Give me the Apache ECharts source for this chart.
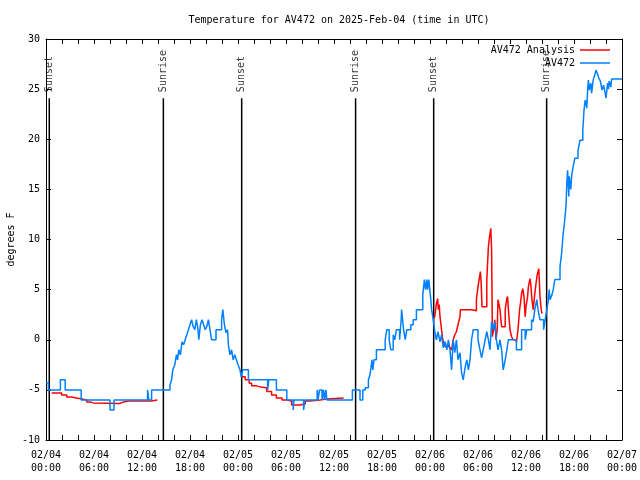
<!DOCTYPE html>
<html>
<head>
<meta charset="utf-8">
<script src="https://cdn.jsdelivr.net/npm/echarts@6/dist/echarts.min.js"></script>
<style>html,body{margin:0;padding:0;background:#fff}#c{width:640px;height:480px}</style>
</head>
<body>
<div id="c"></div>
<script>
// hours since 2025-02-04 00:00 UTC
const blueTime = [0,0.3,1.8,2.4,4.4,8.0,8.5,12.7,12.85,13.2,15.5,15.7,15.85,16.1,16.3,16.45,16.6,16.8,17.0,17.2,17.4,17.6,17.8,18.0,18.2,18.4,18.6,18.8,19.0,19.1,19.3,19.5,19.7,19.9,20.1,20.3,20.5,20.7,21.25,21.95,22.1,22.3,22.5,22.7,22.8,23.0,23.2,23.4,23.6,23.8,24.0,24.25,24.4,24.6,25.3,27.7,27.85,28.8,30.1,30.9,31.0,32.2,32.35,33.9,34.0,34.2,34.5,34.7,34.8,35.0,35.1,35.3,38.3,39.25,39.6,39.9,40.3,40.5,40.75,40.85,41.0,41.3,42.4,42.6,42.9,43.1,43.4,43.6,43.8,44.2,44.4,44.45,44.7,44.9,45.1,45.6,45.9,46.3,47.1,47.3,47.45,47.6,47.7,47.85,48.1,48.2,48.4,48.6,48.8,49.0,49.25,49.45,49.65,49.9,50.1,50.3,50.5,50.7,50.9,51.1,51.3,51.5,51.75,51.95,52.15,52.4,52.6,52.8,53.0,53.2,53.4,54.0,54.25,54.45,54.65,54.9,55.1,55.3,55.5,55.7,55.9,56.1,56.3,56.5,56.75,56.95,57.15,57.4,57.6,57.8,58.8,59.45,59.9,60.1,60.7,60.9,61.1,61.35,61.5,61.75,62.2,62.4,62.6,62.8,62.9,63.0,63.25,63.4,63.6,64.25,64.45,64.65,64.8,65.0,65.1,65.2,65.35,65.4,65.6,65.7,65.85,66.1,66.5,66.75,67.1,67.25,67.4,67.5,67.6,67.7,67.8,67.9,68.1,68.2,68.4,68.6,68.75,68.9,69.1,69.3,69.5,69.7,69.9,70.0,70.2,70.3,70.4,70.6,70.7,72];
const blueTemp = [-4.3,-5,-4,-5,-6,-7,-6,-5,-6,-5,-4.5,-4,-3,-2.5,-1.5,-2,-1,-1.5,-0.2,-0.5,0,0.5,1.0,1.5,2.0,1.3,1.0,2.0,1.0,0,1.5,2.0,1.5,1.0,1.3,2.0,1.0,0.0,1.0,2.0,3.0,1.5,0.7,1.0,-0.5,-1.5,-1.0,-2.0,-1.5,-2.0,-2.5,-3.0,-3.7,-3.0,-4,-5,-4,-5,-6,-7,-6,-7,-6,-5,-6,-5,-6,-5,-6,-5,-6,-6,-5,-6,-5,-4.8,-4,-3.5,-2,-3,-2,-1,0,1,0,-1,0.5,0,1,0,2,3,1,0,1,1.5,2,3,4.5,6,5,6,5,6,4,3,2,0.8,0,0.8,-0.2,0.5,-0.8,-0.2,-1,0,-1,-3,0,-1.3,0,-2,-1.3,-3.3,-4,-2.7,-2,-3,-2,0,1,0,-1,-1.8,-1,0,0.8,0,-1,1.8,1,1.8,0,-1,0,-1,-3,-2,-1,0,-1,1,0,1,2,1.8,3,4,3,2,1,2,3,4,5,4,4.5,5,6,7.3,8.6,10.6,11.6,13.3,15.6,16.9,14.3,16.3,15,16.3,17.1,18.1,18.9,19.9,20.9,22.9,23.9,23.6,23.1,24.9,25.9,24.9,25.6,24.6,25.9,26.4,26.9,26.6,26.1,25.8,24.9,25.4,24.6,24.1,25.6,25,25.8,25.2,26,26];

const analysisTime = [0.7,1.96,2.6,3.2,3.8,4.5,5.1,5.5,5.9,9.25,9.7,10.3,11.3,12.2,13.2,13.9,null,
  24.5,24.9,25.4,25.7,26.3,27.0,27.6,28.2,28.8,29.5,30.1,30.7,31.75,32.4,33.0,34.25,35.1,37.2,null,
  48.4,48.6,48.8,48.95,49.05,49.15,49.25,49.4,49.5,49.6,49.75,49.9,50.3,50.5,50.7,50.9,51.1,51.3,51.5,51.75,51.8,53.2,53.8,54.0,54.2,54.3,54.4,54.5,54.7,55.1,55.3,55.4,55.6,55.7,55.8,56.0,56.1,56.25,56.4,56.5,56.7,56.75,56.95,57.4,57.6,57.7,57.8,58.0,58.2,58.4,58.8,59.0,59.2,59.3,59.45,59.6,59.75,59.9,60.0,60.2,60.3,60.5,60.6,60.75,60.9,61.1,61.25,61.4,61.6,61.75,61.9,62.0];
const analysisTemp = [-5.3,-5.5,-5.7,-5.8,-5.9,-6.0,-6.2,-6.3,-6.35,-6.2,-6.1,-6.1,-6.1,-6.1,-6.0,-6.0,null,
  -3.7,-4.0,-4.35,-4.6,-4.75,-4.8,-5.15,-5.5,-5.8,-6.0,-6.1,-6.5,-6.4,-6.1,-6.0,-5.9,-5.8,-5.8,null,
  2.1,2.3,3.6,4.1,3.0,3.5,2.3,1.3,0.6,0.0,-0.4,-0.7,-0.5,-0.8,-1.0,0.0,0.5,0.8,1.5,2.3,3.0,2.9,4.0,5.3,6.3,6.8,5.6,3.3,3.3,6.0,9.3,10.0,11.1,9.0,0.3,1.3,2.0,0.0,1.0,4.0,4.1,3.0,1.3,3.0,4.1,4.3,3.0,1.0,0.3,0.0,-0.3,1.0,3.0,3.6,4.6,5.1,4.3,2.3,3.3,4.3,5.3,6.1,5.5,4.0,3.0,4.6,5.6,6.5,7.1,4.3,3.0,2.6];

const sunTimes = [0.41, 14.67, 24.46, 38.7, 48.46, 62.58];
const sunLabels = ['Sunset', 'Sunrise', 'Sunset', 'Sunrise', 'Sunset', 'Sunrise'];
const sunLineTop = 24.1;
const sunLabelAt = 24.7;

const yTicks = [-10, -5, 0, 5, 10, 15, 20, 25, 30];
const xTickEveryHours = 6;

const MONO = '"DejaVu Sans Mono", "Liberation Mono", monospace';

function pairs(t, v) {
  return t.map((x, i) => (x === null ? ['-', '-'] : [x, v[i]]));
}

function fmtX(h) {
  if (h % xTickEveryHours !== 0) return '';
  const day = 4 + Math.floor(h / 24);
  const hh = h % 24;
  return '02/0' + day + '\n' + (hh < 10 ? '0' : '') + hh + ':00';
}

const series = [
  {
    name: 'AV472 Analysis', type: 'line', step: 'end', symbol: 'none', showSymbol: false,
    data: pairs(analysisTime, analysisTemp), connectNulls: false,
    lineStyle: { color: '#ff0000', width: 1.5 }, itemStyle: { color: '#ff0000' },
    z: 3, animation: false
  },
  {
    name: 'AV472', type: 'line', step: 'end', symbol: 'none', showSymbol: false,
    data: pairs(blueTime, blueTemp),
    lineStyle: { color: '#0080ff', width: 1.5 }, itemStyle: { color: '#0080ff' },
    z: 4, animation: false
  }
];

sunTimes.forEach((t, i) => {
  series.push({
    type: 'line', symbol: 'none', silent: true, animation: false,
    data: [[t, -10], [t, sunLineTop]],
    lineStyle: { color: '#000', width: 1.5 }, z: 2
  });
  series.push({
    type: 'scatter', symbolSize: 0, silent: true, animation: false,
    data: [[t, sunLabelAt, sunLabels[i]]],
    label: {
      show: true, position: 'inside', rotate: 90, align: 'left', verticalAlign: 'middle',
      formatter: p => p.data[2], color: '#000', fontFamily: MONO, fontSize: 10
    }, z: 5
  });
});

const chart = echarts.init(document.getElementById('c'), null, { renderer: 'canvas' });
chart.setOption({
  animation: false,
  backgroundColor: '#fff',
  title: {
    text: 'Temperature for AV472 on 2025-Feb-04 (time in UTC)',
    left: 334, top: 10, textAlign: 'center',
    textStyle: { fontFamily: MONO, fontSize: 10, fontWeight: 'normal', color: '#000' }
  },
  legend: {
    data: [
      { name: 'AV472 Analysis', icon: 'rect', itemStyle: { color: '#ff0000' } },
      { name: 'AV472', icon: 'rect', itemStyle: { color: '#0080ff' } }
    ],
    orient: 'vertical', right: 30, top: 43.5, align: 'right', padding: 0,
    itemWidth: 30, itemHeight: 1.5, itemGap: 0,
    textStyle: { fontFamily: MONO, fontSize: 10, color: '#000', lineHeight: 13 },
    selectedMode: false
  },
  grid: { left: 46, right: 18, top: 39, bottom: 40, containLabel: false, outerBoundsMode: 'none' },
  xAxis: [
    {
      type: 'value', min: 0, max: 72, interval: 2, position: 'bottom',
      axisLine: { show: true, onZero: false, lineStyle: { color: '#000', width: 1 } },
      axisTick: { show: true, inside: true, length: 5, lineStyle: { color: '#000' } },
      axisLabel: { formatter: fmtX, fontFamily: MONO, fontSize: 10, color: '#000', margin: 9, lineHeight: 13, showMinLabel: true, showMaxLabel: true },
      splitLine: { show: false }
    },
    {
      type: 'value', min: 0, max: 72, interval: 2, position: 'top',
      axisLine: { show: true, onZero: false, lineStyle: { color: '#000', width: 1 } },
      axisTick: { show: true, inside: true, length: 5, lineStyle: { color: '#000' } },
      axisLabel: { show: false }, splitLine: { show: false }
    }
  ],
  yAxis: [
    {
      type: 'value', min: yTicks[0], max: yTicks[yTicks.length - 1], interval: 5, position: 'left',
      name: 'degrees F', nameLocation: 'middle', nameRotate: 90, nameGap: 30, nameMoveOverlap: false,
      nameTextStyle: { fontFamily: MONO, fontSize: 10, color: '#000' },
      axisLine: { show: true, onZero: false, lineStyle: { color: '#000', width: 1 } },
      axisTick: { show: true, inside: true, length: 5, lineStyle: { color: '#000' } },
      axisLabel: { fontFamily: MONO, fontSize: 10, color: '#000', margin: 6 },
      splitLine: { show: false }
    },
    {
      type: 'value', min: yTicks[0], max: yTicks[yTicks.length - 1], interval: 5, position: 'right',
      axisLine: { show: true, onZero: false, lineStyle: { color: '#000', width: 1 } },
      axisTick: { show: true, inside: true, length: 5, lineStyle: { color: '#000' } },
      axisLabel: { show: false }, splitLine: { show: false }
    }
  ],
  series: series
});
</script>
</body>
</html>
